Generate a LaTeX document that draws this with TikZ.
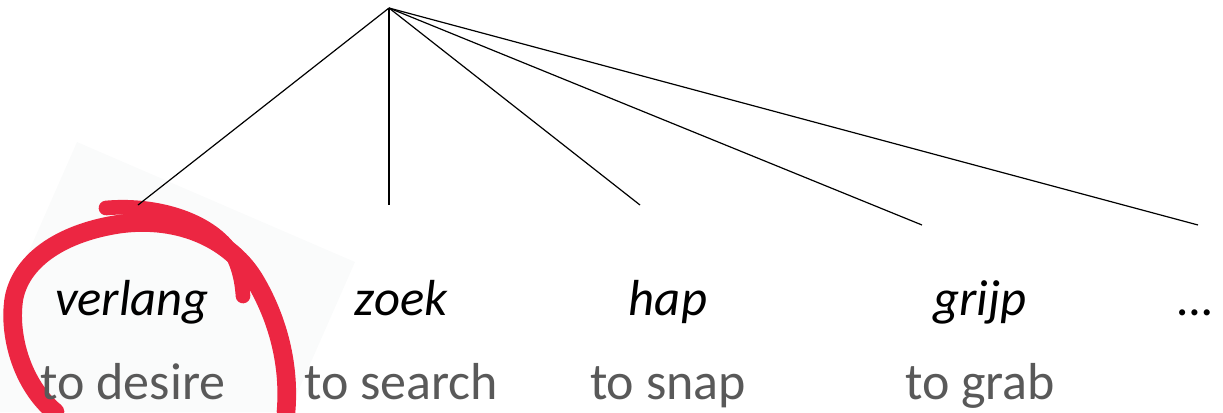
\documentclass[tikz,border=0pt]{standalone}
\usepackage{fontspec}
\setmainfont{Carlito}
\definecolor{marker}{RGB}{236,38,66}
\definecolor{gloss}{RGB}{89,89,89}
\definecolor{paper}{RGB}{250,251,251}
\begin{document}
\begin{tikzpicture}[x=0.75pt,y=-0.75pt,
  word/.style={anchor=base,inner sep=0pt,font=\fontsize{38}{42}\selectfont\itshape,text=black},
  glosstext/.style={anchor=base,inner sep=0pt,font=\fontsize{39}{44}\selectfont,text=gloss},
  branch/.style={draw=black,line width=0.9pt},
  ring/.style={draw=marker,line width=14pt,line cap=round,line join=round}]
\useasboundingbox (0,0) rectangle (1223,412);
% faint photo patch
\fill[paper] (77,142) -- (355,262) -- (289,412) -- (0,412) -- (0,317) -- cycle;
% red hand-drawn circle
\draw[ring] (55,412) .. controls (22,385) and (8,335) .. (14,298)
  .. controls (22,258) and (65,232) .. (120,224)
  .. controls (180,216) and (232,240) .. (256,282)
  .. controls (278,320) and (290,365) .. (286,412);
\draw[ring,line width=11pt] (106,208) .. controls (150,204) and (200,216) .. (226,245)
  .. controls (238,260) and (242,280) .. (243,296);
% tree
\coordinate (root) at (389,8);
\coordinate (e1) at (138,205);
\coordinate (e2) at (389,205);
\coordinate (e3) at (640,205);
\coordinate (e4) at (922,225);
\coordinate (e5) at (1198,225);
\foreach \i in {1,...,5} \draw[branch] (root) -- (e\i);
% words
\node[word] (w1) at (132,315) {verlang};
\node[word] (w2) at (401,315) {zoek};
\node[word] (w3) at (668,315) {hap};
\node[word] (w4) at (980,315) {grijp};
\node[word] (w5) at (1196,315) {…};
% glosses
\node[glosstext] (g1) at (133,399) {to desire};
\node[glosstext] (g2) at (401,399) {to search};
\node[glosstext] (g3) at (668,399) {to snap};
\node[glosstext] (g4) at (980,399) {to grab};
\end{tikzpicture}
\end{document}
